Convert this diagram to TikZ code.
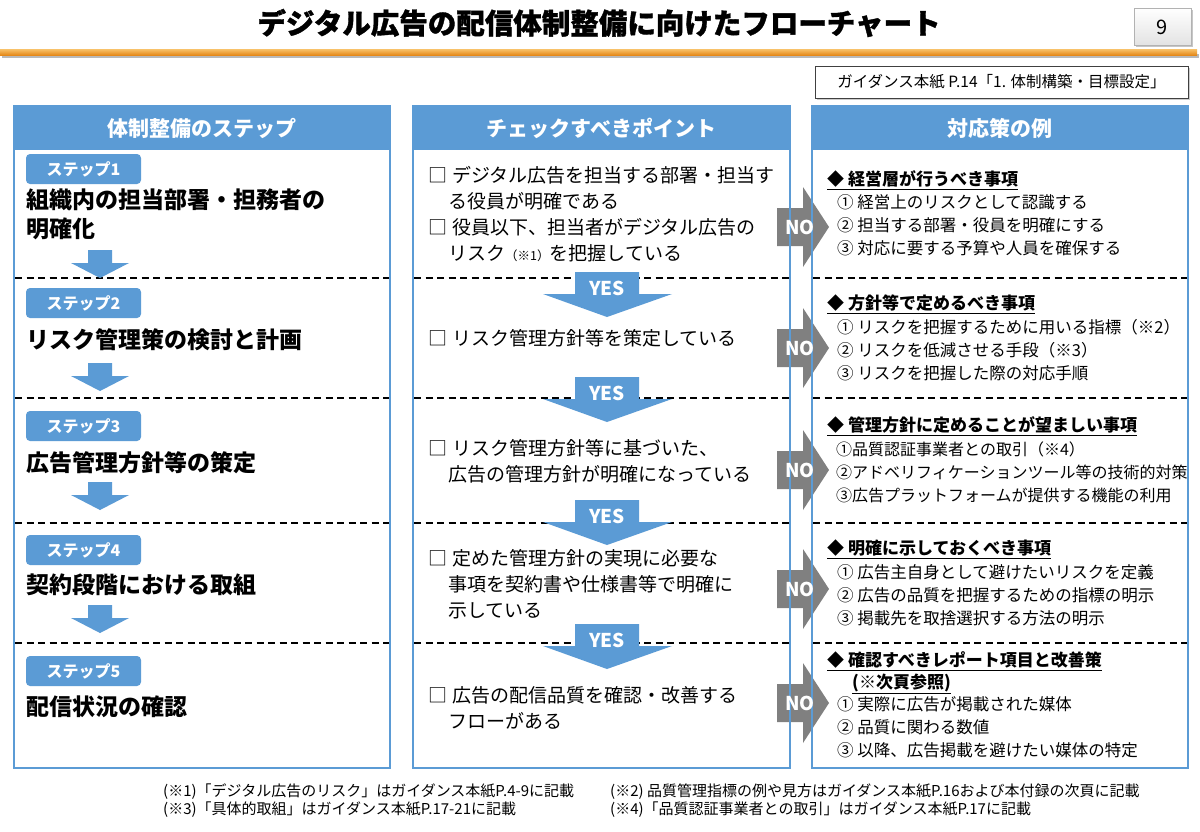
\documentclass[tikz,border=0pt]{standalone}
\usepackage{fontspec}
\setmainfont{Noto Sans CJK JP}
\newfontfamily\heavyfont{Noto Sans CJK JP}[FakeBold=1.2]
\usetikzlibrary{positioning}
\definecolor{colblue}{HTML}{5B9BD5}
\definecolor{nogray}{HTML}{808080}
\definecolor{orangetop}{HTML}{F8C26A}
\definecolor{orangebot}{HTML}{E5891A}
\newcommand\fsz[2]{\fontsize{#1}{#2}\selectfont}
\newcommand\boxmark{□\hspace{5pt}}
\tikzset{colframe/.style={draw=colblue,line width=2.5pt},
 colhead/.style={fill=colblue,text=white,font=\bfseries\fsz{21}{25},minimum width=376pt,minimum height=44pt,inner sep=0pt},
 stepbox/.style={fill=colblue,rounded corners=4pt,text=white,font=\bfseries\fsz{16}{18},minimum width=115pt,minimum height=30pt,inner sep=0pt},
 steptitle/.style={anchor=west,align=left,inner sep=0pt,font=\bfseries\fsz{23}{29}},
 checktext/.style={anchor=west,align=left,inner sep=0pt,font=\fsz{19}{26}},
 answerhead/.style={anchor=west,inner sep=0pt,font=\bfseries\fsz{17}{20}},
 answeritem/.style={anchor=west,align=left,inner sep=0pt,font=\fsz{16.5}{23}},
 sepline/.style={line width=1.6pt,dash pattern=on 7pt off 4.5pt},
 arrowlabel/.style={text=white,font=\bfseries\fsz{19}{20},inner sep=0pt},
 notetext/.style={anchor=west,inner sep=0pt,font=\fsz{15}{16}}}

\begin{document}
\begin{tikzpicture}[x=1pt,y=-1pt]
\useasboundingbox (0,0) rectangle (1200,831);
\fill[white] (0,0) rectangle (1200,831);
% title and page number
\node[font=\heavyfont\bfseries\fsz{28.5}{32},inner sep=0pt] (title) at (599,23) {デジタル広告の配信体制整備に向けたフローチャート};
\fill[gray!55] (2,54) rectangle (1199,58);
\shade[top color=orangetop,bottom color=orangebot] (0,49) rectangle (1197,55);
\fill[gray!45] (1136,10) rectangle (1193,47);
\shade[top color=white,bottom color=gray!22,draw=gray!60] (1134,8) rectangle (1191,45);
\node[font=\fsz{20}{22}] (pagenum) at (1162.5,27) {9};
\fill[gray!40] (817,68) rectangle (1190,100);
\node[draw=gray!50!black,fill=white,line width=0.8pt,minimum width=373pt,minimum height=32pt,inner sep=0pt,font=\fsz{15.5}{17}] (refbox) at (1001.5,82) {ガイダンス本紙 P.14「1. 体制構築・目標設定」};

% NO arrows sit behind the column frames
\foreach \cy in {227,348,470,589,703}
 \fill[nogray] (777,\cy-19) -- (803,\cy-19) -- (803,\cy-40) -- (829,\cy) -- (803,\cy+40) -- (803,\cy+19) -- (777,\cy+19) -- cycle;

% columns
\node[colhead] (hdsteps) at (202,128) {体制整備のステップ};
\node[colhead,minimum width=377pt] (hdcheck) at (601.5,128) {チェックすべきポイント};
\node[colhead] (hdanswer) at (1000,128) {対応策の例};
\foreach \xa/\xb in {14/390,413/790,812/1188}
 \draw[colframe] (\xa,106) rectangle (\xb,768);
\foreach \sy in {278,398,523,643} {
 \foreach \xa/\xb in {15/389,414/789,813/1187}
  \draw[sepline] (\xa,\sy) -- (\xb,\sy);
}
\foreach \cy [count=\i] in {227,348,470,589,703}
 \node[arrowlabel] (no\i) at (800,\cy) {NO};

% steps
\foreach \ly [count=\i] in {169,303,426,550,671}
 \node[stepbox] (step\i) at (83.5,\ly) {ステップ\i};
\node[steptitle] (title1) at (26,214.5) {組織内の担当部署・担務者の\\明確化};
\node[steptitle] (title2) at (26,340) {リスク管理策の検討と計画};
\node[steptitle] (title3) at (26,463) {広告管理方針等の策定};
\node[steptitle] (title4) at (26,585) {契約段階における取組};
\node[steptitle] (title5) at (26,707) {配信状況の確認};
\foreach \ty in {250,363,482,605}
 \fill[colblue] (88,\ty) -- (112,\ty) -- (112,\ty+13) -- (129,\ty+13) -- (100,\ty+28) -- (71,\ty+13) -- (88,\ty+13) -- cycle;

% check points
\node[checktext] (check1) at (428,214) {\boxmark デジタル広告を担当する部署・担当す\\\hspace*{20pt}る役員が明確である\\\boxmark 役員以下、担当者がデジタル広告の\\\hspace*{20pt}リスク{\fsz{12.5}{26}（※1）}を把握している};
\node[checktext] (check2) at (428,338) {\boxmark リスク管理方針等を策定している};
\node[checktext] (check3) at (428,461.5) {\boxmark リスク管理方針等に基づいた、\\\hspace*{20pt}広告の管理方針が明確になっている};
\node[checktext] (check4) at (428,584) {\boxmark 定めた管理方針の実現に必要な\\\hspace*{20pt}事項を契約書や仕様書等で明確に\\\hspace*{20pt}示している};
\node[checktext] (check5) at (428,707.5) {\boxmark 広告の配信品質を確認・改善する\\\hspace*{20pt}フローがある};
\foreach \ty [count=\i] in {272,377,500,624} {
 \fill[colblue] (575,\ty) -- (639,\ty) -- (639,\ty+22) -- (672,\ty+22) -- (607,\ty+45) -- (543,\ty+22) -- (575,\ty+22) -- cycle;
 \node[arrowlabel] (yes\i) at (607,\ty+16) {YES};
}

% answers
\node[answerhead] (ahead1) at (827,179) {◆ 経営層が行うべき事項};
\node[answeritem] (aitem1) at (837,225.5) {① 経営上のリスクとして認識する\\② 担当する部署・役員を明確にする\\③ 対応に要する予算や人員を確保する};
\node[answerhead] (ahead2) at (827,303) {◆ 方針等で定めるべき事項};
\node[answeritem] (aitem2) at (837,350) {① リスクを把握するために用いる指標（※2）\\② リスクを低減させる手段（※3）\\③ リスクを把握した際の対応手順};
\node[answerhead] (ahead3) at (827,425) {◆ 管理方針に定めることが望ましい事項};
\node[answeritem,font=\fsz{16}{23}] (aitem3) at (836,472) {①品質認証事業者との取引（※4）\\②アドベリフィケーションツール等の技術的対策\\③広告プラットフォームが提供する機能の利用};
\node[answerhead] (ahead4) at (827,548) {◆ 明確に示しておくべき事項};
\node[answeritem] (aitem4) at (837,595) {① 広告主自身として避けたいリスクを定義\\② 広告の品質を把握するための指標の明示\\③ 掲載先を取捨選択する方法の明示};
\node[answerhead] (ahead5) at (827,660) {◆ 確認すべきレポート項目と改善策};
\node[answerhead] (ahead6) at (852,683) {(※次頁参照)};
\node[answeritem] (aitem5) at (837,727.5) {① 実際に広告が掲載された媒体\\② 品質に関わる数値\\③ 以降、広告掲載を避けたい媒体の特定};
\foreach \h in {ahead1,ahead2,ahead3,ahead4,ahead5,ahead6}
 \draw[line width=1pt] ([yshift=-1.5pt]\h.south west) -- ([yshift=-1.5pt]\h.south east);

% notes
\node[notetext] (note1) at (163,792) {(※1)「デジタル広告のリスク」はガイダンス本紙P.4-9に記載};
\node[notetext] (note3) at (163,810) {(※3)「具体的取組」はガイダンス本紙P.17-21に記載};
\node[notetext] (note2) at (610,792) {(※2) 品質管理指標の例や見方はガイダンス本紙P.16および本付録の次頁に記載};
\node[notetext] (note4) at (610,810) {(※4)「品質認証事業者との取引」はガイダンス本紙P.17に記載};
\end{tikzpicture}
\end{document}
